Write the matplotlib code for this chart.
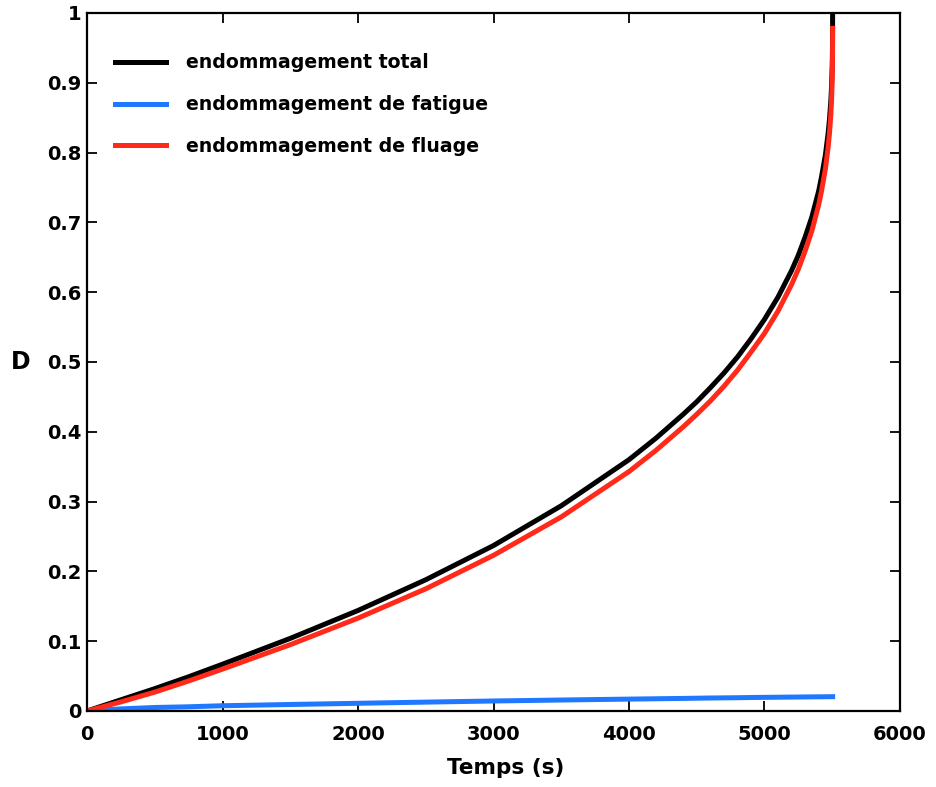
import matplotlib

matplotlib.use("Agg")
import matplotlib.pyplot as plt

# values
temps = [0, 250, 500, 750, 1000, 1500, 2000, 2500, 3000, 3500, 4000, 4200,
         4400, 4500, 4600, 4700, 4800, 4900, 5000, 5100, 5200, 5250, 5300,
         5350, 5400, 5420, 5450, 5470, 5480, 5490, 5495, 5500, 5502, 5503]
d_total = [0.0, 0.016, 0.032, 0.049, 0.067, 0.104, 0.144, 0.188, 0.237, 0.294,
           0.360, 0.391, 0.425, 0.443, 0.463, 0.484, 0.507, 0.533, 0.561,
           0.593, 0.631, 0.653, 0.679, 0.708, 0.745, 0.764, 0.797, 0.828,
           0.848, 0.875, 0.894, 0.925, 0.948, 1.0]
d_fatigue = [0.0, 0.003, 0.005, 0.006, 0.0075, 0.0093, 0.011, 0.0127, 0.0143,
             0.0157, 0.017, 0.0175, 0.018, 0.0183, 0.0186, 0.0188, 0.019,
             0.0193, 0.0195, 0.0197, 0.0199, 0.02, 0.0201, 0.0202, 0.0203,
             0.0203, 0.0204, 0.0204, 0.0205, 0.0205, 0.0205, 0.0205, 0.0205,
             0.0205]
d_fluage = [0.0, 0.013, 0.027, 0.043, 0.060, 0.095, 0.133, 0.175, 0.223, 0.278,
            0.343, 0.3735, 0.407, 0.425, 0.444, 0.465, 0.488, 0.514, 0.541,
            0.573, 0.611, 0.633, 0.659, 0.688, 0.725, 0.744, 0.777, 0.808,
            0.828, 0.855, 0.874, 0.905, 0.928, 0.978]

plt.rcParams["font.family"] = ["DejaVu Sans"]
plt.rcParams["font.weight"] = "bold"

fig = plt.figure(figsize=(9.36, 7.87), dpi=100)
ax = fig.add_axes([0.093, 0.0966, 0.8685, 0.8869])

ax.plot(temps, d_total, color="black", lw=3.6, label="endommagement total")
ax.plot(temps, d_fatigue, color="#1f78ff", lw=3.6, label="endommagement de fatigue")
ax.plot(temps, d_fluage, color="#ff2a1a", lw=3.6, label="endommagement de fluage")

ax.set_xlim(0, 6000)
ax.set_ylim(0, 1)
ax.set_xticks(range(0, 6001, 1000))
ax.set_yticks([i / 10 for i in range(11)])
ax.set_yticklabels(["0"] + [f"0.{i}" for i in range(1, 10)] + ["1"])

ax.tick_params(direction="in", length=7, width=1.3, top=True, right=True,
               labelsize=14)
ax.tick_params(axis="x", pad=10)
ax.tick_params(axis="y", pad=4)
for s in ax.spines.values():
    s.set_linewidth(1.6)

ax.set_xlabel("Temps (s)", fontsize=15.5, fontweight="bold")
ax.xaxis.set_label_coords(0.515, -0.067)
ax.set_ylabel("D", fontsize=17, fontweight="bold", rotation=0,
              ha="center", va="center")
ax.yaxis.set_label_coords(-0.082, 0.5)

leg = ax.legend(loc="upper left", bbox_to_anchor=(0.034, 0.942), frameon=False,
                borderpad=0, borderaxespad=0,
                handlelength=2.7, handletextpad=1.05, labelspacing=1.2,
                prop={"family": "DejaVu Sans", "weight": "bold", "size": 13.6})

fig.savefig("out.png", dpi=100)
